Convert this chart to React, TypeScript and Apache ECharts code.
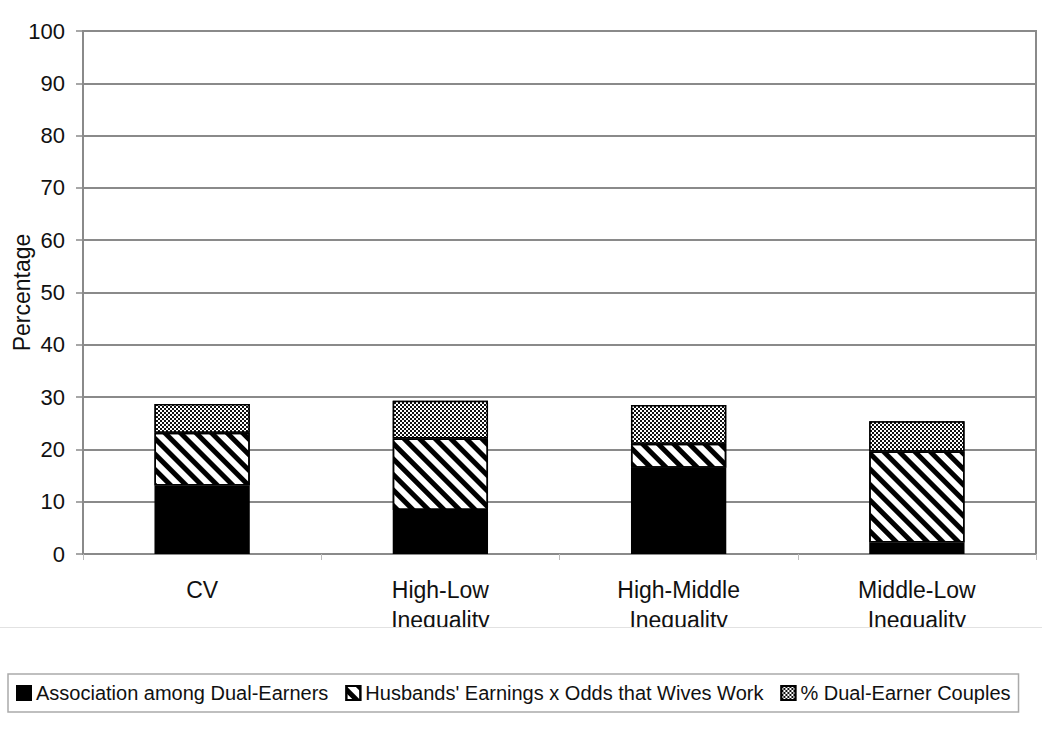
import React, { useEffect, useRef } from "react";
import * as echarts from "echarts";

const categories = ["CV", "High-Low\nInequality", "High-Middle\nInequality", "Middle-Low\nInequality"];
const seriesNames = [
  "Association among Dual-Earners",
  "Husbands' Earnings x Odds that Wives Work",
  "% Dual-Earner Couples",
];
const association = [13.1, 8.4, 16.5, 2.2];
const husbandsOdds = [10.1, 13.7, 4.6, 17.4];
const dualEarnerPct = [5.5, 7.2, 7.4, 5.8];
const yTicks = [0, 10, 20, 30, 40, 50, 60, 70, 80, 90, 100];

const FONT = "'Liberation Sans', Arial, sans-serif";

export default function App() {
  const ref = useRef<HTMLDivElement>(null);
  useEffect(() => {
    if (!ref.current) return;
    const chart = echarts.init(ref.current, undefined, { renderer: "svg" });
    const border = { borderColor: "#000", borderWidth: 1.5 };
    chart.setOption({
      animation: false,
      backgroundColor: "#fff",
      grid: {
        left: 83,
        top: 31,
        right: 14,
        bottom: 177,
        show: true,
        borderColor: "#8a8a8a",
        borderWidth: 2,
        containLabel: false,
        outerBoundsMode: "none",
      },
      xAxis: {
        type: "category",
        data: categories,
        boundaryGap: true,
        axisLine: { lineStyle: { color: "#8a8a8a", width: 2 } },
        axisTick: { show: true, length: 6, lineStyle: { color: "#bbb", width: 1 } },
        axisLabel: { color: "#111", fontFamily: FONT, fontSize: 23, lineHeight: 30, margin: 21 },
      },
      yAxis: {
        type: "value",
        min: 0,
        max: 100,
        interval: 10,
        name: "Percentage",
        nameLocation: "middle",
        nameGap: 50,
        nameMoveOverlap: false,
        nameTextStyle: { color: "#111", fontFamily: FONT, fontSize: 23 },
        axisLine: { show: true, lineStyle: { color: "#8a8a8a", width: 2 } },
        axisTick: { show: true, length: 7, lineStyle: { color: "#8a8a8a", width: 1.5 } },
        axisLabel: {
          color: "#111",
          fontFamily: FONT,
          fontSize: 22,
          margin: 18,
          formatter: (v: number) => (yTicks.includes(v) ? String(v) : ""),
        },
        splitLine: { lineStyle: { color: "#8a8a8a", width: 2 } },
      },
      legend: {
        left: 8,
        top: 674,
        icon: "rect",
        itemWidth: 14,
        itemHeight: 14,
        itemGap: 17,
        padding: [9, 8, 9, 8],
        borderColor: "#aaa",
        borderWidth: 1.5,
        textStyle: { color: "#111", fontFamily: FONT, fontSize: 20 },
        data: seriesNames,
      },
      graphic: [
        {
          type: "rect",
          z: 100,
          shape: { x: 0, y: 627, width: 1050, height: 40 },
          style: { fill: "#fff" },
        },
        {
          type: "line",
          z: 101,
          shape: { x1: 0, y1: 627.5, x2: 1042, y2: 627.5 },
          style: { stroke: "#e2e2e2", lineWidth: 1 },
        },
      ],
      series: [
        {
          name: seriesNames[0],
          type: "bar",
          stack: "total",
          barWidth: "40%",
          data: association,
          itemStyle: { color: "#000", ...border },
        },
        {
          name: seriesNames[1],
          type: "bar",
          stack: "total",
          data: husbandsOdds,
          itemStyle: {
            color: "#fff",
            ...border,
            decal: {
              symbol: "rect",
              color: "#000",
              dashArrayX: [1, 0],
              dashArrayY: [5, 5.5],
              rotation: Math.PI / 4,
            },
          },
        },
        {
          name: seriesNames[2],
          type: "bar",
          stack: "total",
          data: dualEarnerPct,
          itemStyle: {
            color: "#111",
            ...border,
            decal: {
              symbol: "rect",
              color: "#fff",
              dashArrayX: [[1.6, 1.6], [0, 1.6, 1.6, 0]],
              dashArrayY: [1.6, 0],
              rotation: 0,
            },
          },
        },
      ],
    });
    return () => chart.dispose();
  }, []);
  return (
    <div
      ref={ref}
      style={{ position: "absolute", left: 0, top: 0, width: 1050, height: 731, background: "#fff" }}
    />
  );
}
